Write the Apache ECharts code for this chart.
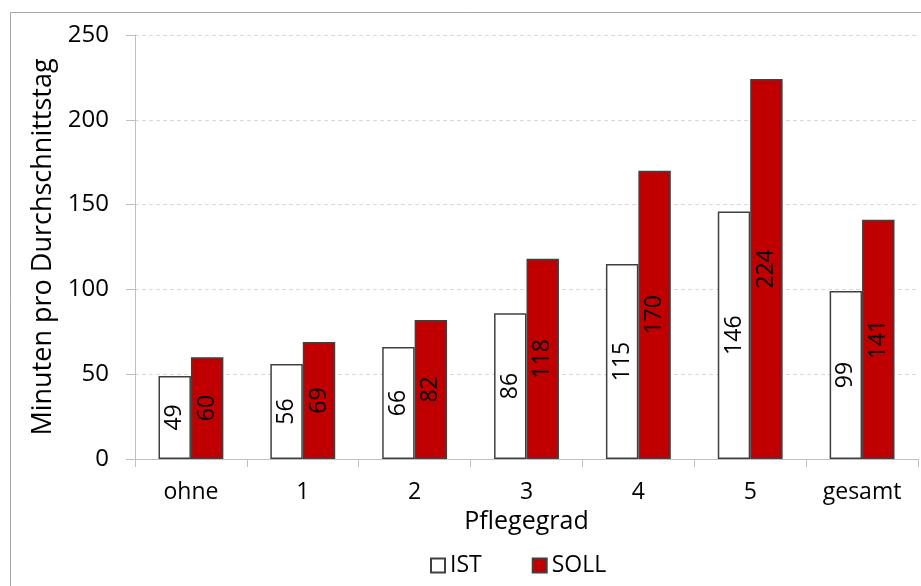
<!DOCTYPE html>
<html><head><meta charset="utf-8">
<script src="https://cdn.jsdelivr.net/npm/echarts@6/dist/echarts.min.js"></script>
<style>html,body{margin:0;padding:0;background:#fff}#c{width:921px;height:586px}</style>
</head><body><div id="c"></div>
<script>
var categories = ['ohne', '1', '2', '3', '4', '5', 'gesamt'];
var istValues = [49, 56, 66, 86, 115, 146, 99];
var sollValues = [60, 69, 82, 118, 170, 224, 141];
var seriesNames = ['IST', 'SOLL'];
var yTicks = [0, 50, 100, 150, 200, 250];

var FONT = '"Open Sans", sans-serif';
var chart = echarts.init(document.getElementById('c'));
var labelCfg = {
  show: true, position: 'inside', rotate: 90, color: '#000',
  fontSize: 23, fontFamily: FONT
};
chart.setOption({
  animation: false,
  textStyle: { fontFamily: FONT },
  graphic: [{
    type: 'rect', shape: { x: 10.5, y: 12.5, width: 930, height: 600 },
    style: { fill: 'none', stroke: '#a6a6a6', lineWidth: 1 }, silent: true
  }],
  grid: { left: 135, right: 3, top: 35, bottom: 127, containLabel: false },
  legend: {
    data: seriesNames, bottom: 4, left: 425, itemGap: 50,
    itemWidth: 14, itemHeight: 14, icon: 'rect',
    textStyle: { fontSize: 23, color: '#000', fontFamily: FONT }
  },
  xAxis: {
    type: 'category', data: categories,
    name: 'Pflegegrad', nameLocation: 'middle', nameGap: 50,
    nameTextStyle: { fontSize: 25, color: '#000', fontFamily: FONT },
    axisLine: { lineStyle: { color: '#bfbfbf', width: 1 } },
    axisTick: { show: true, length: 8, lineStyle: { color: '#bfbfbf' } },
    axisLabel: { fontSize: 23, color: '#000', margin: 22, fontFamily: FONT }
  },
  yAxis: {
    type: 'value', min: 0, max: 250, interval: 50,
    name: 'Minuten pro Durchschnittstag', nameLocation: 'middle', nameGap: 76,
    nameRotate: 90,
    nameTextStyle: { fontSize: 27, color: '#000', fontFamily: FONT },
    axisLine: { show: true, lineStyle: { color: '#bfbfbf', width: 1 } },
    axisTick: { show: true, length: 9, lineStyle: { color: '#bfbfbf' } },
    axisLabel: { fontSize: 24, color: '#000', margin: 26, fontFamily: FONT },
    splitLine: { show: true, lineStyle: { color: '#d9d9d9', type: [4, 3] } }
  },
  series: [
    {
      name: seriesNames[0], type: 'bar', data: istValues,
      barGap: '0%', barCategoryGap: '42%',
      itemStyle: { color: '#ffffff', borderColor: '#404040', borderWidth: 1.5 },
      label: labelCfg
    },
    {
      name: seriesNames[1], type: 'bar', data: sollValues,
      itemStyle: { color: '#c00000', borderColor: '#404040', borderWidth: 1.5 },
      label: labelCfg
    }
  ]
});
</script></body></html>
